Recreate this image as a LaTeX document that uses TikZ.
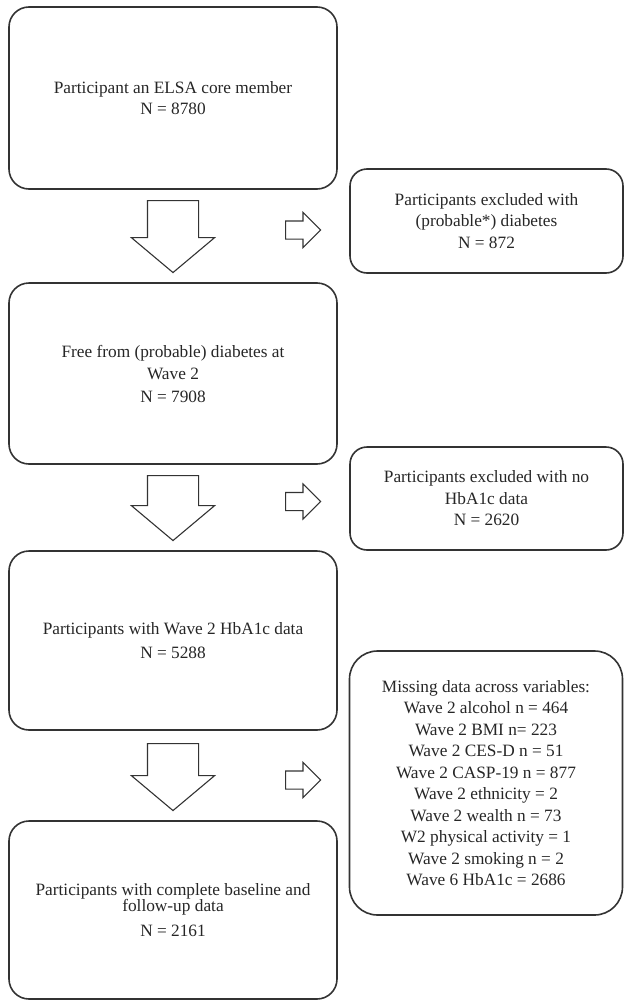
\documentclass[tikz,border=0pt]{standalone}
\usepackage{fontspec}
\setmainfont{Liberation Serif}
\usetikzlibrary{shapes.arrows}

\begin{document}
\begin{tikzpicture}[
  x=1pt, y=-1pt,
  font=\fontsize{17.3}{21.5}\selectfont,
  cbox/.style={draw=black!80, line width=1.6pt, rounded corners=20pt,
               minimum width=328pt, align=center, inner sep=0pt, text=black!85},
  xbox/.style={draw=black!80, line width=1.6pt, rounded corners=17pt,
               minimum width=273pt, align=center, inner sep=0pt, text=black!85},
  bigarr/.style={draw=black!80, line width=1.1pt, single arrow, rotate=-90,
                 anchor=tail, single arrow head extend=16pt,
                 single arrow tip angle=100, inner xsep=0pt, inner ysep=25pt},
  smallarr/.style={draw=black!80, line width=1.1pt, single arrow, anchor=tail,
                   single arrow head extend=8.5pt, single arrow tip angle=90,
                   inner xsep=0pt, inner ysep=8.5pt, minimum height=35pt},
]
  \useasboundingbox (0,0) rectangle (624,1001);

  % Main column

  \node[cbox, minimum height=182pt] (core) at (173, 98)
    {Participant an ELSA core member\\N = 8780};

  \node[cbox, minimum height=181pt] (free) at (173, 373.5)
    {Free from (probable) diabetes at\\[1pt]Wave 2\\[1pt]N = 7908};

  \node[cbox, minimum height=179pt] (hba) at (173, 640.5)
    {Participants with Wave 2 HbA1c data\\[2pt]N = 5288};

  \node[cbox, minimum height=178pt] (final) at (173, 910)
    {Participants with complete baseline and\\[-5pt]follow-up data\\[3pt]N = 2161};

  % Exclusions

  \node[xbox, minimum height=104pt] (exdiab) at (486.5, 221)
    {Participants excluded with\\(probable*) diabetes\\N = 872};

  \node[xbox, minimum height=103pt] (exhba) at (486.5, 498.5)
    {Participants excluded with no\\HbA1c data\\N = 2620};

  \node[xbox, rounded corners=28pt, minimum height=264pt] (missing) at (486, 783)
    {Missing data across variables:\\
     Wave 2 alcohol n = 464\\
     Wave 2 BMI n= 223\\
     Wave 2 CES-D n = 51\\
     Wave 2 CASP-19 n = 877\\
     Wave 2 ethnicity = 2\\
     Wave 2 wealth n = 73\\
     W2 physical activity = 1\\
     Wave 2 smoking n = 2\\
     Wave 6 HbA1c = 2686};

  % Block arrows down the column

  \node[bigarr, minimum height=72pt] (down1) at (173, 200) {};
  \node[bigarr, minimum height=65pt] (down2) at (173, 475) {};
  \node[bigarr, minimum height=67pt] (down3) at (173, 743) {};

  % Side arrows to the exclusion boxes

  \node[smallarr] (side1) at (285, 230) {};
  \node[smallarr] (side2) at (285, 501.5) {};
  \node[smallarr] (side3) at (285, 780) {};

\end{tikzpicture}
\end{document}
